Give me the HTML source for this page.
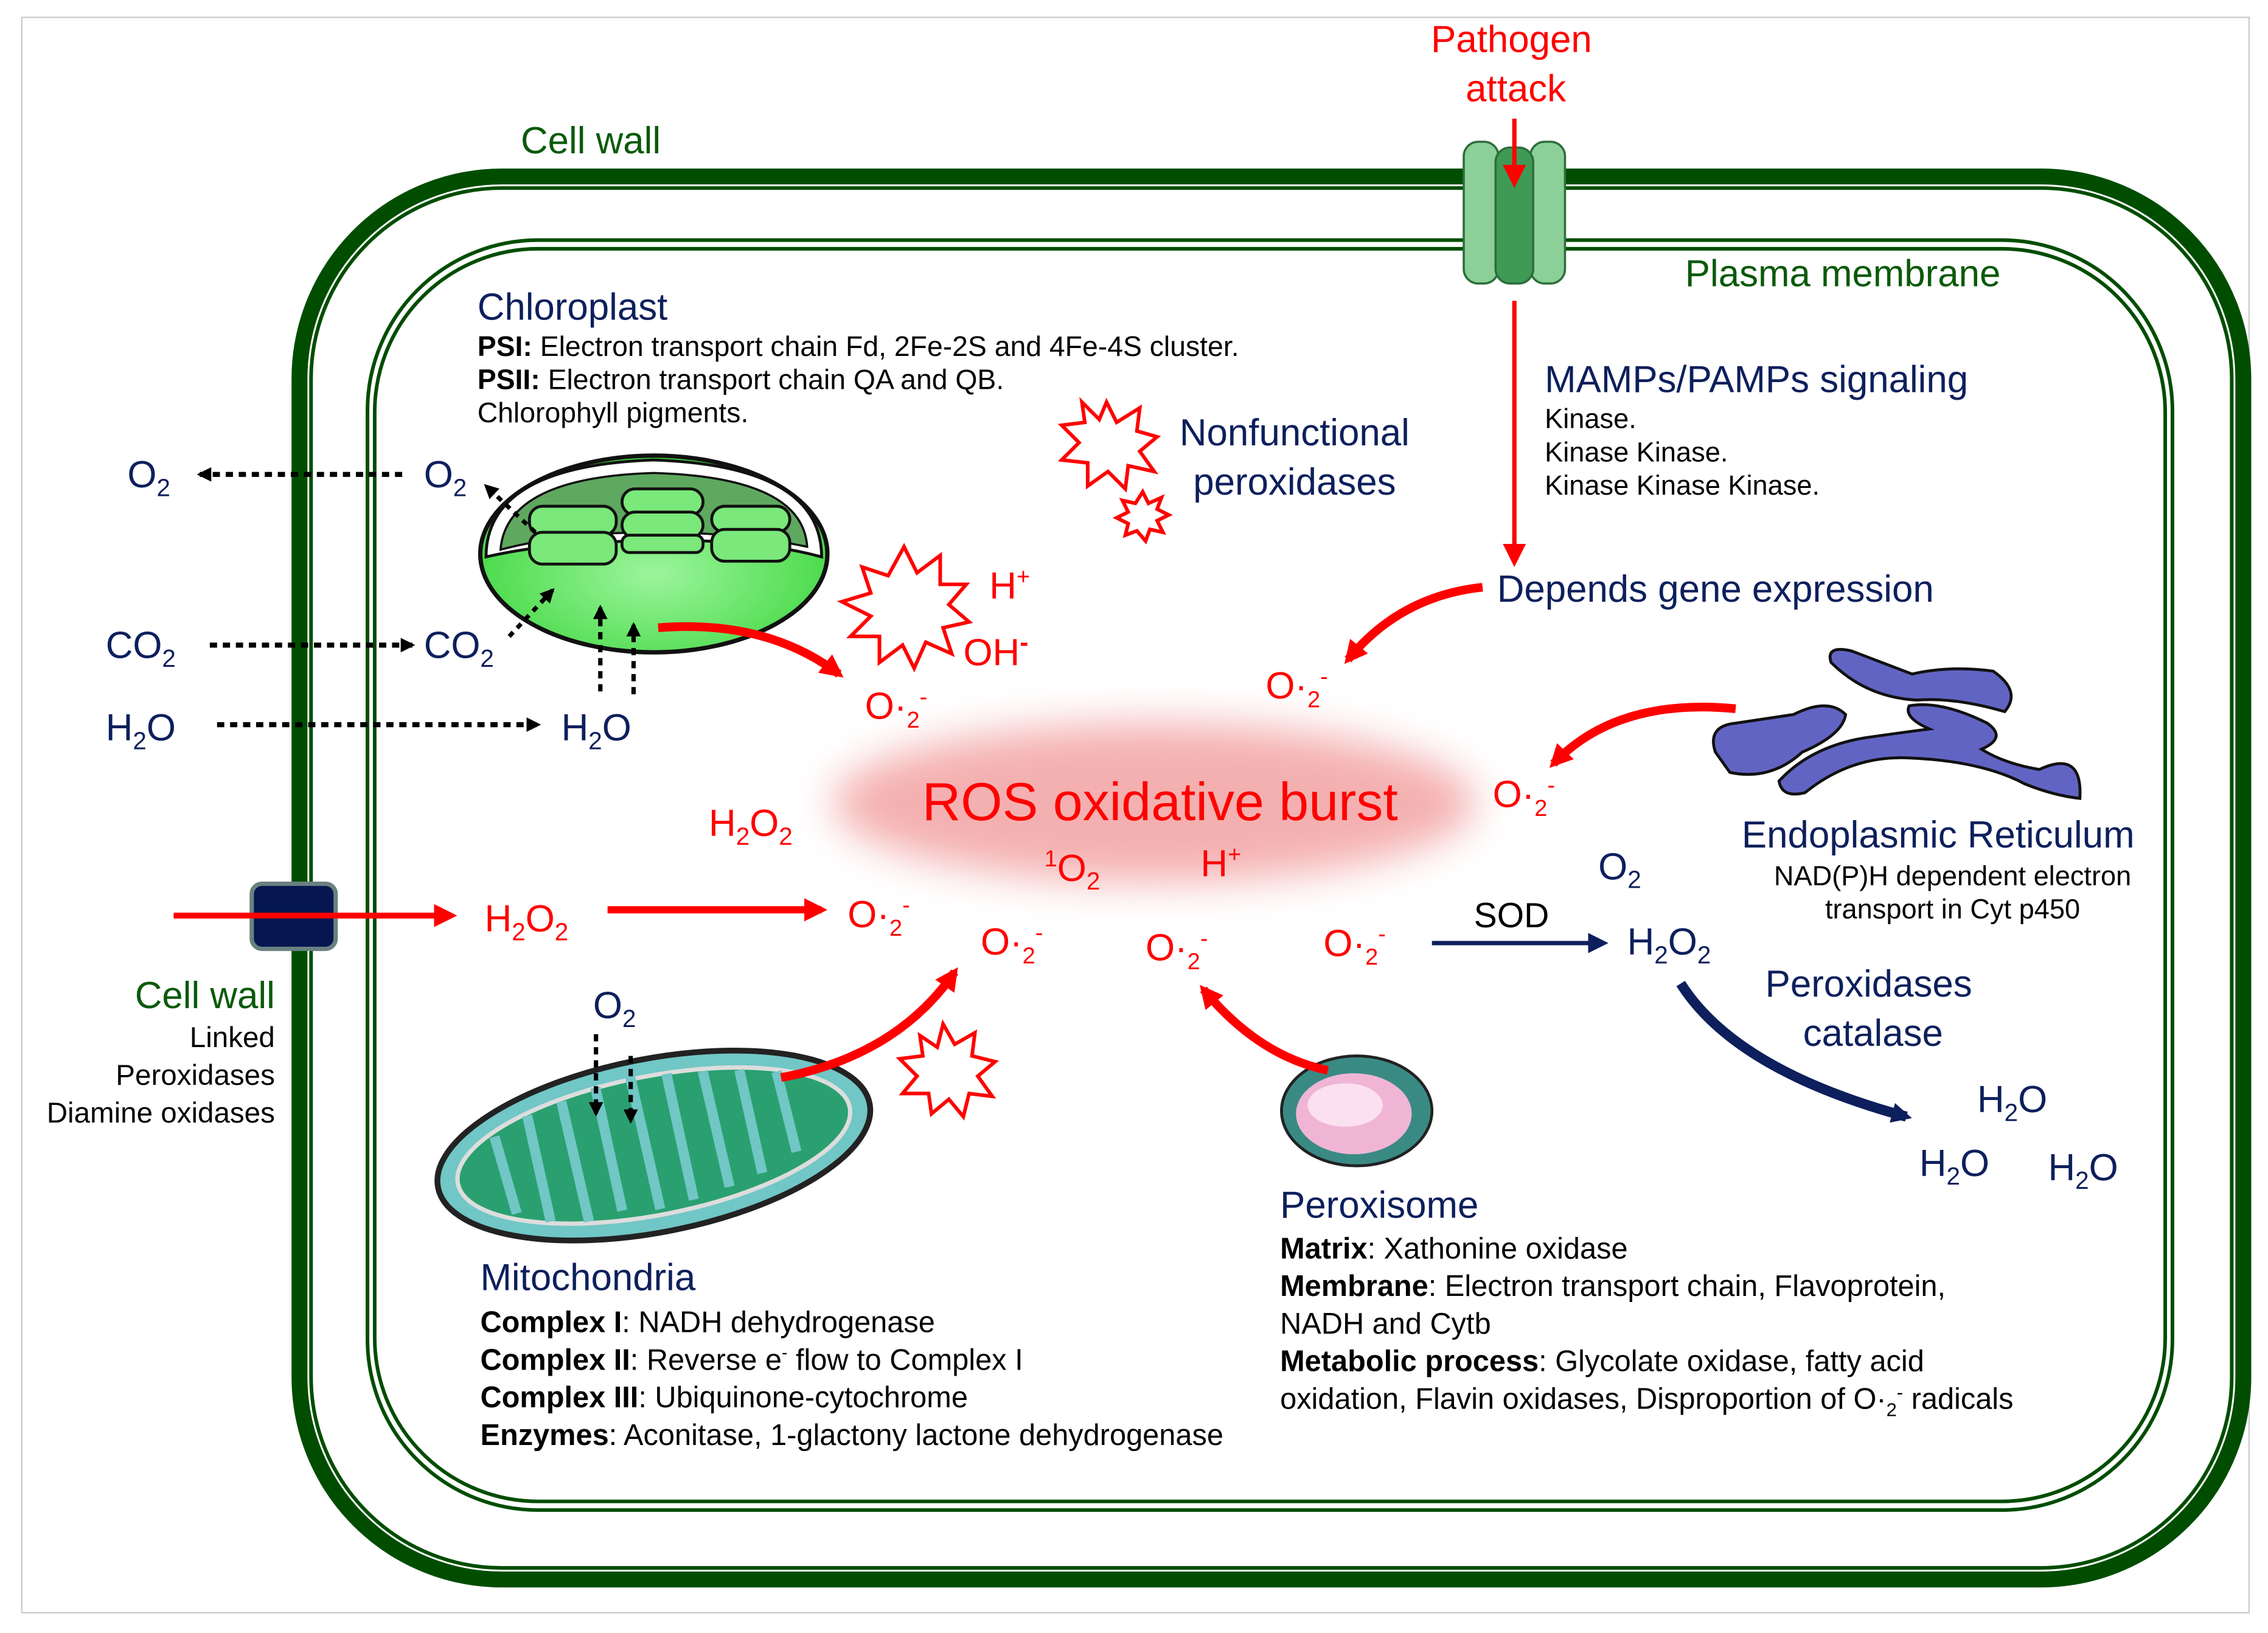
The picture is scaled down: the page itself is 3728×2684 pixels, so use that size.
<!DOCTYPE html>
<html><head><meta charset="utf-8"><style>
html,body{margin:0;padding:0;background:#fff}
svg{display:block}
text{font-family:"Liberation Sans",sans-serif}
.n{fill:#0d1f5c}.r{fill:#ff0000}.g{fill:#0a5a0a}.k{fill:#000}
.t26{font-size:26px}.t18{font-size:18px}.t20{font-size:20px}
</style></head><body>
<svg width="3728" height="2684" viewBox="0 0 1568 1129" xmlns="http://www.w3.org/2000/svg">
<defs>
<filter id="blur" x="-30%" y="-50%" width="160%" height="200%"><feGaussianBlur stdDeviation="14"/></filter>
<radialGradient id="chl" cx="50%" cy="60%" r="60%"><stop offset="0" stop-color="#9cf59c"/><stop offset="1" stop-color="#3ed63e"/></radialGradient>
<marker id="ak" markerWidth="10" markerHeight="10" refX="8" refY="5" orient="auto" markerUnits="userSpaceOnUse"><path d="M0,0 L10,5 L0,10z" fill="#000"/></marker>
<marker id="ar" markerWidth="16" markerHeight="16" refX="12" refY="8" orient="auto" markerUnits="userSpaceOnUse"><path d="M0,0 L16,8 L0,16z" fill="#f00"/></marker>
<marker id="an" markerWidth="14" markerHeight="14" refX="10" refY="7" orient="auto" markerUnits="userSpaceOnUse"><path d="M0,0 L14,7 L0,14z" fill="#0d1f5c"/></marker>
</defs>
<rect x="15" y="12" width="1540" height="1103" fill="none" stroke="#ccc" stroke-width="1"/>
<!-- cell wall -->
<rect x="207" y="122" width="1344" height="970" rx="140" fill="none" stroke="#004d00" stroke-width="11"/>
<rect x="215" y="130" width="1328" height="954" rx="132" fill="none" stroke="#004d00" stroke-width="2.5"/>
<rect x="254" y="166" width="1248" height="878" rx="118" fill="none" stroke="#004d00" stroke-width="2.5"/>
<rect x="259" y="172" width="1238" height="866" rx="113" fill="none" stroke="#004d00" stroke-width="2.5"/>
<!-- channel -->
<g stroke="#2d6e3a" stroke-width="1.5">
<rect x="1012" y="98" width="24" height="98" rx="10" fill="#8ccf98"/>
<rect x="1058" y="98" width="24" height="98" rx="10" fill="#8ccf98"/>
<rect x="1034" y="102" width="26" height="94" rx="10" fill="#3f9a55"/>
</g>
<text class="r t26" x="1045" y="36" text-anchor="middle">Pathogen</text>
<text class="r t26" x="1048" y="70" text-anchor="middle">attack</text>
<line x1="1047" y1="82" x2="1047" y2="126" stroke="#f00" stroke-width="3" marker-end="url(#ar)"/>
<line x1="1047" y1="208" x2="1047" y2="388" stroke="#f00" stroke-width="3" marker-end="url(#ar)"/>
<text class="g t26" x="360" y="106">Cell wall</text>
<text class="g t26" x="1165" y="198">Plasma membrane</text>
<!-- chloroplast text -->
<text class="n t26" x="330" y="221">Chloroplast</text>
<text class="k" font-size="19.5" x="330" y="246"><tspan font-weight="bold">PSI:</tspan> Electron transport chain Fd, 2Fe-2S and 4Fe-4S cluster.</text>
<text class="k" font-size="19.5" x="330" y="269"><tspan font-weight="bold">PSII:</tspan> Electron transport chain QA and QB.</text>
<text class="k" font-size="19.5" x="330" y="292">Chlorophyll pigments.</text>
<text class="n t26" x="1068" y="271">MAMPs/PAMPs signaling</text>
<text class="k" font-size="19" x="1068" y="296">Kinase.</text>
<text class="k" font-size="19" x="1068" y="319">Kinase Kinase.</text>
<text class="k" font-size="19" x="1068" y="342">Kinase Kinase Kinase.</text>
<text class="n t26" x="895" y="308" text-anchor="middle">Nonfunctional</text>
<text class="n t26" x="895" y="342" text-anchor="middle">peroxidases</text>
<text class="n t26" x="1035" y="416">Depends gene expression</text>
<!-- stars -->
<g fill="#fff" stroke="#f00" stroke-width="2.5">
<polygon points="765,278 772,292 788,282 786,298 800,302 788,312 798,326 780,322 778,338 766,326 752,336 752,320 734,318 746,306 734,294 750,292 748,278 760,290"/>
<polygon points="790,340 794,348 803,344 800,352 808,356 800,360 804,368 795,366 792,374 786,367 778,370 780,362 772,358 780,354 776,346 785,348"/>
<polygon points="625,378 634,396 650,384 650,404 668,404 656,418 670,430 652,434 658,452 640,444 632,462 624,446 608,458 608,440 588,440 602,426 582,416 602,410 596,392 614,398"/>
<polygon points="652,708 660,722 674,714 672,730 688,734 676,744 686,758 670,756 666,772 656,760 644,770 642,756 624,756 634,744 622,732 638,730 636,716 648,724"/>
</g>
<!-- chloroplast -->
<ellipse cx="452" cy="383" rx="120" ry="68" fill="url(#chl)" stroke="#111" stroke-width="3"/>
<path d="M336,385 Q336,322 452,318 Q568,322 568,385 Q520,372 452,374 Q384,374 336,385Z" fill="#fff" stroke="#111" stroke-width="2"/>
<path d="M346,380 Q350,330 452,327 Q555,330 558,378 Q510,368 452,368 Q392,368 346,380Z" fill="#5fa85f" stroke="#111" stroke-width="1.5"/>
<g fill="#7ae87a" stroke="#111" stroke-width="2">
<rect x="366" y="350" width="60" height="20" rx="9"/><rect x="366" y="368" width="60" height="22" rx="9"/>
<rect x="430" y="338" width="56" height="18" rx="9"/><rect x="430" y="354" width="56" height="18" rx="9"/><rect x="430" y="370" width="56" height="12" rx="5"/>
<rect x="492" y="350" width="54" height="18" rx="9"/><rect x="492" y="366" width="54" height="22" rx="9"/>
</g>
<!-- gas exchange -->
<text class="n t26" x="88" y="337">O<tspan font-size="17" dy="6">2</tspan></text>
<line x1="278" y1="328" x2="138" y2="328" stroke="#000" stroke-width="3.5" stroke-dasharray="5,4" marker-end="url(#ak)"/>
<text class="n t26" x="293" y="337">O<tspan font-size="17" dy="6">2</tspan></text>
<line x1="370" y1="368" x2="336" y2="336" stroke="#000" stroke-width="3" stroke-dasharray="4,4" marker-end="url(#ak)"/>
<text class="n t26" x="73" y="455">CO<tspan font-size="17" dy="6">2</tspan></text>
<line x1="145" y1="446" x2="285" y2="446" stroke="#000" stroke-width="3.5" stroke-dasharray="5,4" marker-end="url(#ak)"/>
<text class="n t26" x="293" y="455">CO<tspan font-size="17" dy="6">2</tspan></text>
<line x1="352" y1="440" x2="382" y2="408" stroke="#000" stroke-width="3" stroke-dasharray="4,4" marker-end="url(#ak)"/>
<text class="n t26" x="73" y="512">H<tspan font-size="17" dy="6">2</tspan><tspan dy="-6">O</tspan></text>
<line x1="150" y1="501" x2="372" y2="501" stroke="#000" stroke-width="3.5" stroke-dasharray="5,4" marker-end="url(#ak)"/>
<text class="n t26" x="388" y="512">H<tspan font-size="17" dy="6">2</tspan><tspan dy="-6">O</tspan></text>
<line x1="415" y1="478" x2="415" y2="420" stroke="#000" stroke-width="3" stroke-dasharray="5,4" marker-end="url(#ak)"/>
<line x1="438" y1="480" x2="438" y2="432" stroke="#000" stroke-width="3" stroke-dasharray="5,4" marker-end="url(#ak)"/>
<text class="r t26" x="684" y="414">H<tspan font-size="16" dy="-10">+</tspan></text>
<text class="r t26" x="666" y="460">OH<tspan font-size="18" dy="-10" font-weight="bold">-</tspan></text>
<!-- red curved arrows -->
<path d="M455,434 Q530,428 580,466" fill="none" stroke="#f00" stroke-width="6" marker-end="url(#ar)"/>
<text class="r t26" x="598" y="497">O·<tspan font-size="16" dy="6">2</tspan><tspan font-size="16" dy="-16">-</tspan></text>
<path d="M1025,406 Q968,412 932,456" fill="none" stroke="#f00" stroke-width="6" marker-end="url(#ar)"/>
<text class="r t26" x="875" y="483">O·<tspan font-size="16" dy="6">2</tspan><tspan font-size="16" dy="-16">-</tspan></text>
<!-- ER -->
<g fill="#6264c4" stroke="#111" stroke-width="2">
<path d="M1266,458 Q1262,446 1280,450 L1322,466 Q1348,460 1378,464 Q1398,478 1386,492 Q1352,482 1325,484 Q1290,482 1266,458Z"/>
<path d="M1186,520 Q1180,502 1200,500 L1240,494 Q1264,482 1276,494 Q1274,508 1246,520 Q1224,540 1196,534Z"/>
<path d="M1230,540 Q1252,516 1290,510 Q1318,506 1334,504 Q1316,496 1320,488 Q1342,484 1374,500 Q1388,510 1370,518 Q1386,528 1410,532 Q1440,518 1438,552 Q1420,550 1400,542 Q1370,526 1320,524 Q1280,522 1248,548 Q1232,552 1230,540Z"/>
</g>
<path d="M1200,490 Q1118,482 1074,528" fill="none" stroke="#f00" stroke-width="6" marker-end="url(#ar)"/>
<text class="r t26" x="1032" y="558">O·<tspan font-size="16" dy="6">2</tspan><tspan font-size="16" dy="-16">-</tspan></text>
<text class="n t26" x="1340" y="586" text-anchor="middle">Endoplasmic Reticulum</text>
<text class="k" font-size="19" x="1350" y="612" text-anchor="middle">NAD(P)H dependent electron</text>
<text class="k" font-size="19" x="1350" y="635" text-anchor="middle">transport in Cyt p450</text>
<!-- ROS -->
<ellipse cx="798" cy="555" rx="222" ry="55" fill="#f08f8f" opacity="0.7" filter="url(#blur)"/>
<text class="r" x="802" y="567" font-size="37" text-anchor="middle">ROS oxidative burst</text>
<text class="r t26" x="490" y="578">H<tspan font-size="17" dy="6">2</tspan><tspan dy="-6">O</tspan><tspan font-size="17" dy="6">2</tspan></text>
<text class="r t26" x="722" y="609"><tspan font-size="16" dy="-10">1</tspan><tspan dy="10">O</tspan><tspan font-size="17" dy="6">2</tspan></text>
<text class="r t26" x="830" y="606">H<tspan font-size="16" dy="-10">+</tspan></text>
<text class="n t26" x="1105" y="608">O<tspan font-size="17" dy="6">2</tspan></text>
<text class="k" x="1045" y="641" font-size="24" text-anchor="middle">SOD</text>
<line x1="990" y1="652" x2="1108" y2="652" stroke="#0d1f5c" stroke-width="3" marker-end="url(#an)"/>
<text class="n t26" x="1125" y="660">H<tspan font-size="17" dy="6">2</tspan><tspan dy="-6">O</tspan><tspan font-size="17" dy="6">2</tspan></text>
<!-- wall transporter -->
<line x1="120" y1="633" x2="312" y2="633" stroke="#f00" stroke-width="4" marker-end="url(#ar)"/>
<rect x="174" y="611" width="58" height="45" rx="7" fill="#061650" stroke="#6b8080" stroke-width="3"/>
<line x1="120" y1="633" x2="312" y2="633" stroke="#f00" stroke-width="4"/>
<text class="r t26" x="335" y="644">H<tspan font-size="17" dy="6">2</tspan><tspan dy="-6">O</tspan><tspan font-size="17" dy="6">2</tspan></text>
<line x1="420" y1="629" x2="568" y2="629" stroke="#f00" stroke-width="5" marker-end="url(#ar)"/>
<text class="r t26" x="586" y="641">O·<tspan font-size="16" dy="6">2</tspan><tspan font-size="16" dy="-16">-</tspan></text>
<text class="r t26" x="678" y="660">O·<tspan font-size="16" dy="6">2</tspan><tspan font-size="16" dy="-16">-</tspan></text>
<text class="r t26" x="792" y="664">O·<tspan font-size="16" dy="6">2</tspan><tspan font-size="16" dy="-16">-</tspan></text>
<text class="r t26" x="915" y="661">O·<tspan font-size="16" dy="6">2</tspan><tspan font-size="16" dy="-16">-</tspan></text>
<text class="g t26" x="190" y="697" text-anchor="end">Cell wall</text>
<text class="k t20" x="190" y="724" text-anchor="end">Linked</text>
<text class="k t20" x="190" y="750" text-anchor="end">Peroxidases</text>
<text class="k t20" x="190" y="776" text-anchor="end">Diamine oxidases</text>
<text class="n t26" x="1292" y="689" text-anchor="middle">Peroxidases</text>
<text class="n t26" x="1295" y="723" text-anchor="middle">catalase</text>
<path d="M1162,680 Q1200,740 1318,772" fill="none" stroke="#0d1f5c" stroke-width="7" marker-end="url(#an)"/>
<text class="n t26" x="1367" y="769">H<tspan font-size="17" dy="6">2</tspan><tspan dy="-6">O</tspan></text>
<text class="n t26" x="1327" y="813">H<tspan font-size="17" dy="6">2</tspan><tspan dy="-6">O</tspan></text>
<text class="n t26" x="1416" y="816">H<tspan font-size="17" dy="6">2</tspan><tspan dy="-6">O</tspan></text>
<!-- mitochondria -->
<text class="n t26" x="410" y="704">O<tspan font-size="17" dy="6">2</tspan></text>
<g transform="rotate(-11 452 792)">
<ellipse cx="452" cy="792" rx="152" ry="60" fill="#71c6c6" stroke="#222" stroke-width="4"/>
<ellipse cx="452" cy="792" rx="138" ry="48" fill="#2aa070" stroke="#ddd" stroke-width="3"/>
<path d="M345,765 L350,820 M370,755 L372,830 M395,750 L398,835 M420,745 L422,832 M445,742 L448,836 M470,745 L472,834 M495,748 L498,830 M520,752 L522,825 M545,758 L548,815" stroke="#71c6c6" stroke-width="7" fill="none"/>
</g>
<line x1="412" y1="715" x2="412" y2="770" stroke="#000" stroke-width="3" stroke-dasharray="5,4" marker-end="url(#ak)"/>
<line x1="436" y1="730" x2="436" y2="775" stroke="#000" stroke-width="3" stroke-dasharray="5,4" marker-end="url(#ak)"/>
<path d="M540,745 Q620,730 660,672" fill="none" stroke="#f00" stroke-width="6" marker-end="url(#ar)"/>
<!-- peroxisome -->
<ellipse cx="938" cy="768" rx="52" ry="38" fill="#3a8a84" stroke="#222" stroke-width="2"/>
<ellipse cx="936" cy="770" rx="40" ry="28" fill="#f0b5d5"/>
<ellipse cx="930" cy="764" rx="26" ry="15" fill="#fbe0ef"/>
<path d="M918,740 Q870,730 832,684" fill="none" stroke="#f00" stroke-width="6" marker-end="url(#ar)"/>
<text class="n t26" x="332" y="892">Mitochondria</text>
<text class="k" x="332" y="921" font-size="20.5"><tspan font-weight="bold">Complex I</tspan>: NADH dehydrogenase</text>
<text class="k" x="332" y="947" font-size="20.5"><tspan font-weight="bold">Complex II</tspan>: Reverse e<tspan font-size="12" dy="-8">-</tspan><tspan dy="8"> flow to Complex I</tspan></text>
<text class="k" x="332" y="973" font-size="20.5"><tspan font-weight="bold">Complex III</tspan>: Ubiquinone-cytochrome</text>
<text class="k" x="332" y="999" font-size="20.5"><tspan font-weight="bold">Enzymes</tspan>:  Aconitase, 1-glactony lactone dehydrogenase</text>
<text class="n t26" x="885" y="842">Peroxisome</text>
<text class="k" x="885" y="870" font-size="20.5"><tspan font-weight="bold">Matrix</tspan>: Xathonine oxidase</text>
<text class="k" x="885" y="896" font-size="20.5"><tspan font-weight="bold">Membrane</tspan>: Electron transport chain, Flavoprotein,</text>
<text class="k" x="885" y="922" font-size="20.5">NADH and Cytb</text>
<text class="k" x="885" y="948" font-size="20.5"><tspan font-weight="bold">Metabolic process</tspan>: Glycolate oxidase, fatty acid</text>
<text class="k" x="885" y="974" font-size="20.5">oxidation, Flavin oxidases, Disproportion of O·<tspan font-size="13" dy="5">2</tspan><tspan font-size="13" dy="-12">-</tspan><tspan dy="7"> radicals</tspan></text>
</svg>
</body></html>
